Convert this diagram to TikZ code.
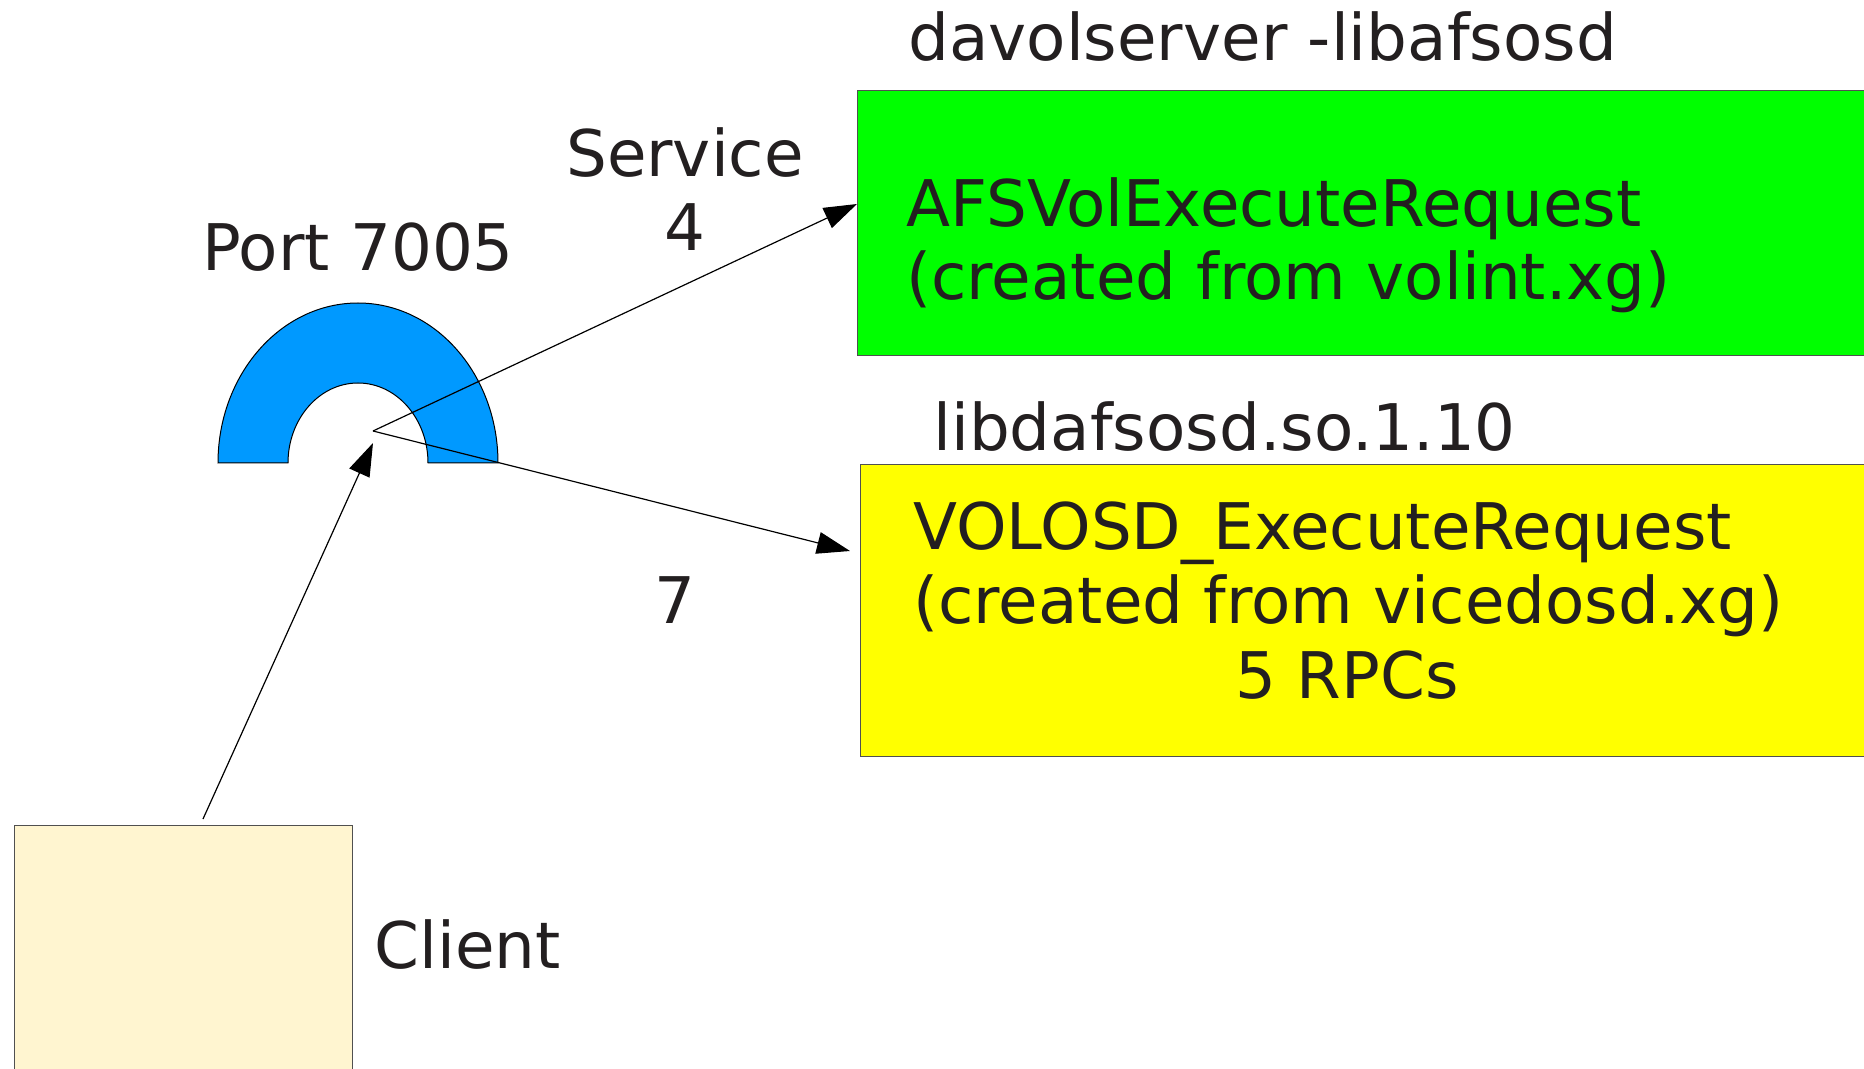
\documentclass[tikz,border=0pt]{standalone}
\usepackage{fontspec}
\setmainfont{DejaVu Sans}
\usetikzlibrary{arrows.meta}
\definecolor{txt}{RGB}{35,31,32}
\definecolor{portblue}{RGB}{0,153,255}
\definecolor{boxgreen}{RGB}{0,255,0}
\definecolor{boxyellow}{RGB}{255,255,0}
\definecolor{clientfill}{RGB}{255,245,208}
\definecolor{boxline}{RGB}{80,80,80}
\begin{document}
\begin{tikzpicture}[x=0.5pt,y=-0.5pt,
  lbl/.style={text=txt, font=\fontsize{32.15}{37.2}\selectfont, inner sep=0pt, anchor=base west},
  conn/.style={draw=black, line width=0.6pt, -{Triangle[length=16.5pt,width=11pt]}},
  boxstyle/.style={draw=boxline, line width=0.6pt, inner sep=0pt, anchor=north west}]
\useasboundingbox (0,0) rectangle (1864,1069);
\clip (0,0) rectangle (1864,1069);
\fill[white] (0,0) rectangle (1864,1069);
% boxes
\node[boxstyle, fill=boxgreen, minimum width=511.5pt, minimum height=132.5pt] (green) at (857,90) {};
\node[boxstyle, fill=boxyellow, minimum width=510pt, minimum height=146pt] (yellow) at (860,464) {};
\node[boxstyle, fill=clientfill, minimum width=169pt, minimum height=130pt] (client) at (14,825) {};
% port half ring
\path[fill=portblue, draw=black, line width=0.5pt]
  (218,463) arc[start angle=180, end angle=360, x radius=140, y radius=160]
  -- (428,463) arc[start angle=360, end angle=180, x radius=70, y radius=80] -- cycle;
% connector points
\coordinate (vtx) at (373,431);
\coordinate (gin) at (857,204);
\coordinate (yin) at (850,551);
\coordinate (cout) at (203,819);
\coordinate (pin) at (373,443);
\draw[conn] (vtx) -- (gin);
\draw[conn] (vtx) -- (yin);
\draw[conn] (cout) -- (pin);
% labels
\node[lbl] (hdr1) at (908,61) {davolserver -libafsosd};
\node[lbl, anchor=base, align=center] (svc) at (685,251) {Service\\4};
\node[lbl] (port) at (202,271) {Port 7005};
\node[lbl] (g1) at (906,227) {AFSVolExecuteRequest};
\node[lbl] (g2) at (906,300) {(created from volint.xg)};
\node[lbl] (hdr2) at (933,451) {libdafsosd.so.1.10};
\node[lbl] (y1) at (913,550) {VOLOSD\_ExecuteRequest};
\node[lbl] (y2) at (913,623) {(created from vicedosd.xg)};
\node[lbl, anchor=base] (y3) at (1347,698) {5 RPCs};
\node[lbl, anchor=base] (seven) at (675,624) {7};
\node[lbl] (clientlbl) at (374,968) {Client};
\end{tikzpicture}
\end{document}
